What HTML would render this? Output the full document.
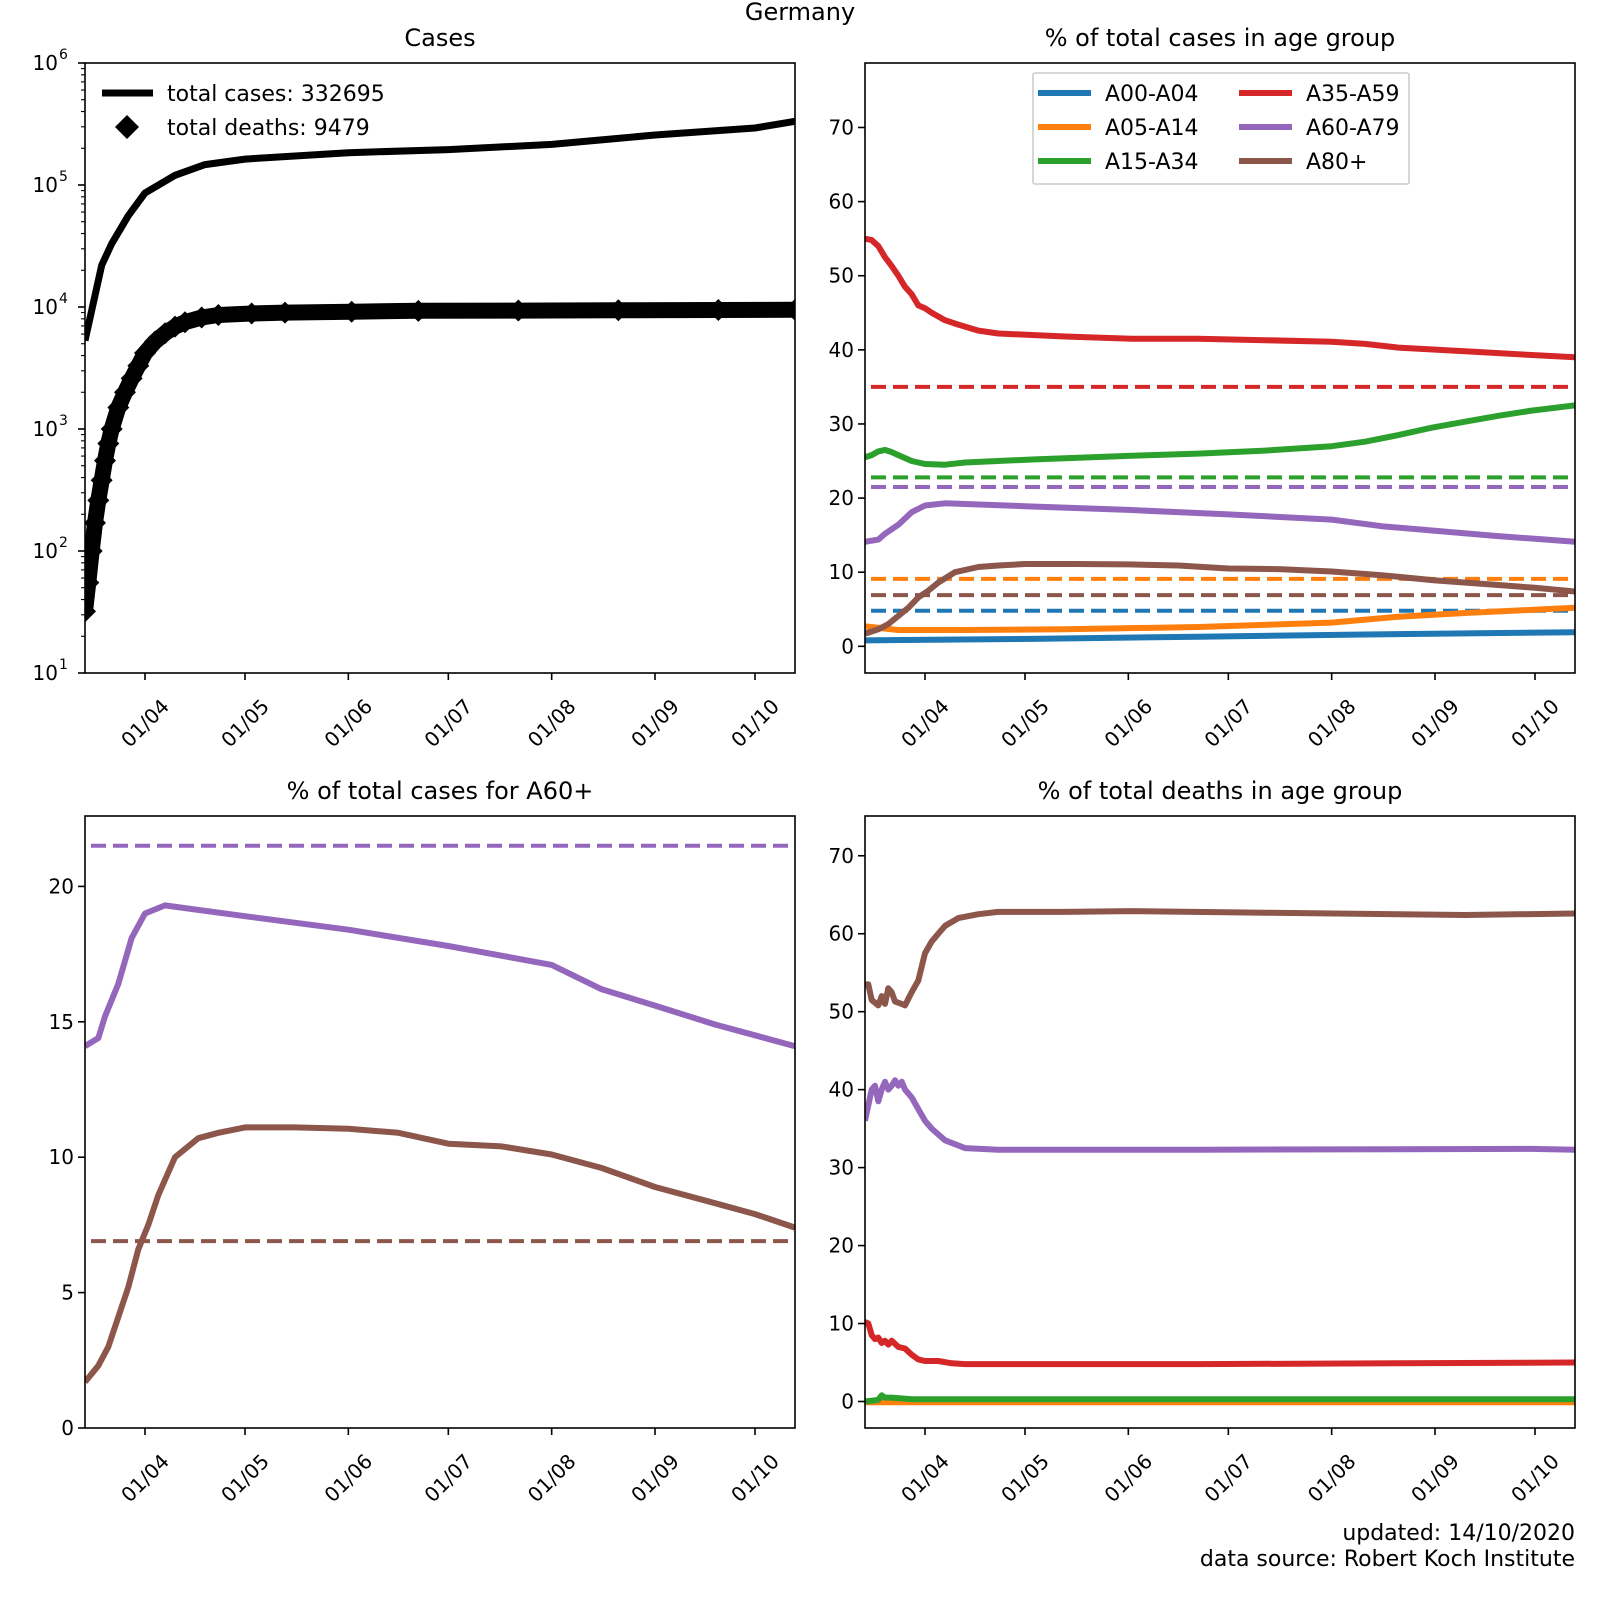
<!DOCTYPE html>
<html><head><meta charset="utf-8">
<style>
html,body{margin:0;padding:0;background:#fff;}
svg{display:block;font-family:"DejaVu Sans","Liberation Sans",sans-serif;}
</style></head>
<body>
<svg id="fig" width="1600" height="1600" viewBox="0 0 1600 1600" xmlns="http://www.w3.org/2000/svg">
<rect x="0" y="0" width="1600" height="1600" fill="#fff"/>
<text x="800" y="20" font-size="24" text-anchor="middle">Germany</text>
<text x="1575" y="1540" font-size="22" text-anchor="end">updated: 14/10/2020</text>
<text x="1575" y="1566" font-size="22" text-anchor="end">data source: Robert Koch Institute</text>
</svg>
<script>
// ---- data (day offsets from 14 March 2020) ----
const dateTickDays = [18, 48, 79, 109, 140, 171, 201];
const dateTickLabels = ["01/04","01/05","01/06","01/07","01/08","01/09","01/10"];
const dayMax = 213;

const caseDays = [0,5,8,13,18,27,36,48,79,109,140,171,201,213];
const caseVals = [5300,22000,33000,56000,86000,120000,147000,163000,184000,195000,215000,257000,293000,332695];
const deathDays = [0,1,2,3,4,5,6,7,8,10,12,14,16,18,21,24,27,30,35,40,50,60,80,100,130,160,190,213];
const deathVals = [32,55,100,170,260,380,550,760,1000,1500,2000,2600,3300,4200,5200,6100,6900,7500,8200,8600,8850,9000,9150,9300,9350,9400,9450,9479];

const logTicks = [1,2,3,4,5,6];

// % of total cases in age group
const a0004Days = [0,50,100,150,213];
const a0004Vals = [0.8,1.0,1.3,1.6,1.9];
const a0514Days = [0,10,30,60,100,140,160,180,213];
const a0514Vals = [2.7,2.2,2.2,2.3,2.6,3.2,4.0,4.5,5.2];
const a1534Days = [0,2,4,6,8,10,14,18,24,30,50,80,100,120,140,150,160,170,180,190,200,213];
const a1534Vals = [25.5,25.8,26.3,26.5,26.2,25.8,25.0,24.6,24.5,24.8,25.2,25.7,26.0,26.4,27.0,27.6,28.5,29.5,30.3,31.1,31.8,32.5];
const a3559Days = [0,2,4,6,8,10,12,14,16,18,20,24,28,34,40,50,60,80,100,120,140,150,160,180,200,213];
const a3559Vals = [55,54.8,54,52.5,51.3,50,48.5,47.5,46,45.6,45,44,43.4,42.6,42.2,42,41.8,41.5,41.5,41.3,41.1,40.8,40.3,39.8,39.3,39];
const a6079Days = [0,4,6,10,14,18,24,30,48,79,109,140,155,171,189,201,213];
const a6079Vals = [14.1,14.4,15.2,16.4,18.1,19.0,19.3,19.2,18.9,18.4,17.8,17.1,16.2,15.6,14.9,14.5,14.1];
const a80Days = [0,4,7,10,13,16,19,22,27,34,40,48,63,79,94,109,125,140,155,171,189,201,213];
const a80Vals = [1.7,2.3,3.0,4.1,5.2,6.6,7.5,8.6,10.0,10.7,10.9,11.1,11.1,11.05,10.9,10.5,10.4,10.1,9.6,8.9,8.3,7.9,7.4];
const popShareGroups = ["A00-A04","A05-A14","A15-A34","A35-A59","A60-A79","A80+"];
const popShareVals = [4.8,9.1,22.8,35.0,21.5,6.9];

// % of total deaths in age group
const d0004Days = [0,213];
const d0004Vals = [0,0];
const d0514Days = [0,213];
const d0514Vals = [-0.1,-0.1];
const d1534Days = [0,4,5,6,8,14,213];
const d1534Vals = [0,0.2,0.8,0.5,0.5,0.3,0.3];
const d3559Days = [0,1,2,3,4,5,6,7,8,10,12,14,16,18,22,26,30,60,100,160,213];
const d3559Vals = [10.2,10,8.5,8,8.2,7.5,7.8,7.3,7.8,7,6.8,6,5.4,5.2,5.2,4.9,4.8,4.8,4.8,4.9,5.0];
const d6079Days = [0,1,2,3,4,5,6,7,8,9,10,11,12,14,16,18,20,24,30,40,60,100,200,213];
const d6079Vals = [36,38,40,40.5,38.5,40,41,40,40.5,41.2,40.5,41,40,39,37.5,36,35,33.5,32.5,32.3,32.3,32.3,32.4,32.3];
const d80Days = [0,1,2,4,5,6,7,8,9,11,12,14,16,18,20,22,24,28,34,40,60,80,120,160,180,213];
const d80Vals = [53.5,53.5,51.5,50.8,52,51,53,52.5,51.3,51,50.8,52.5,54,57.5,59,60,61,62,62.5,62.8,62.8,62.9,62.7,62.5,62.4,62.6];

const colors = ["#1f77b4","#ff7f0e","#2ca02c","#d62728","#9467bd","#8c564b"];

// ---- helpers ----
const NS = "http://www.w3.org/2000/svg";
const fig = document.getElementById("fig");
function mk(tag, attrs, parent){
  const e = document.createElementNS(NS, tag);
  for (const k in attrs) e.setAttribute(k, attrs[k]);
  (parent||fig).appendChild(e);
  return e;
}
function makeAxes(name, x0, y0, x1, y1, ymin, ymax, log){
  const g = mk("g", {});
  
  
  const ax = {g, x0, y0, x1, y1,
    sx: d => x0 + d/dayMax*(x1-x0),
    sy: v => log ? y1 - (Math.log10(v)-ymin)/(ymax-ymin)*(y1-y0) : y1 - (v-ymin)/(ymax-ymin)*(y1-y0)};
  const cp = mk("clipPath", {id: name+"-clip"}, g);
  mk("rect", {x:x0, y:y0, width:x1-x0, height:y1-y0}, cp);
  ax.plot = mk("g", {"clip-path":"url(#"+name+"-clip)"}, g);
  return ax;
}
function frame(ax, title){
  const f = mk("rect", {x:ax.x0, y:ax.y0, width:ax.x1-ax.x0, height:ax.y1-ax.y0, fill:"none", stroke:"#000", "stroke-width":1.6}, ax.g);
  
  
  const t = mk("text", {x:(ax.x0+ax.x1)/2, y:ax.y0-17, "font-size":24, "text-anchor":"middle"}, ax.g);
  t.textContent = title;
  
  
  dateTickDays.forEach((d,i)=>{
    const x = ax.sx(d);
    mk("line", {x1:x, x2:x, y1:ax.y1, y2:ax.y1+7, stroke:"#000", "stroke-width":1.6}, ax.g);
    const cy = ax.y1+50;
    const lb = mk("text", {x:x, y:cy+7, "font-size":20, "text-anchor":"middle", transform:"rotate(-45 "+x+" "+cy+")"}, ax.g);
    lb.textContent = dateTickLabels[i];
    
    
  });
}
function yTicks(ax, ticks){
  ticks.forEach(v=>{
    const y = ax.sy(v);
    mk("line", {x1:ax.x0-7, x2:ax.x0, y1:y, y2:y, stroke:"#000", "stroke-width":1.6}, ax.g);
    const t = mk("text", {x:ax.x0-11, y:y+7, "font-size":20, "text-anchor":"end"}, ax.g);
    t.textContent = String(v);
    
    
  });
}
function line(ax, days, vals, color, name, w){
  const pts = days.map((d,i)=>ax.sx(d).toFixed(1)+","+ax.sy(vals[i]).toFixed(1)).join(" ");
  const p = mk("polyline", {points:pts, fill:"none", stroke:color, "stroke-width":w||6, "stroke-linejoin":"round", "stroke-linecap":"butt"}, ax.plot);
  
  
  return p;
}
function hline(ax, v, color, name){
  const y = ax.sy(v);
  const l = mk("line", {x1:ax.x0+6, x2:ax.x1-6, y1:y, y2:y, stroke:color, "stroke-width":4, "stroke-dasharray":"15,7"}, ax.plot);
  
  
}

// ---- Cases (log) ----
const A = makeAxes("cases-panel", 85, 63, 795, 673, 1, 6, true);
line(A, caseDays, caseVals, "#000", "total-cases-line", 7);
line(A, deathDays, deathVals, "#000", "total-deaths-band", 16);
deathDays.forEach((d,i)=>{
  const x = A.sx(d), y = A.sy(deathVals[i]), r = 11;
  const m = mk("polygon", {points:`${x},${y-r} ${x+r},${y} ${x},${y+r} ${x-r},${y}`, fill:"#000"}, A.plot);
  
  
});
frame(A, "Cases");
logTicks.forEach(e=>{
  const y = A.sy(Math.pow(10,e));
  mk("line", {x1:A.x0-7, x2:A.x0, y1:y, y2:y, stroke:"#000", "stroke-width":1.6}, A.g);
  const t = mk("text", {x:A.x0-27, y:y+7, "font-size":20, "text-anchor":"end"}, A.g);
  t.textContent = "10";
  
  
  const s = mk("text", {x:A.x0-26, y:y-4, "font-size":14, "text-anchor":"start"}, A.g);
  s.textContent = String(e);
  if (e < 6) for (let k=2;k<10;k++){
    const ym = A.sy(k*Math.pow(10,e));
    mk("line", {x1:A.x0-4, x2:A.x0, y1:ym, y2:ym, stroke:"#000", "stroke-width":1.1}, A.g);
  }
});
// legend
(function(){
  const g = mk("g", {});
  
  
  mk("line", {x1:102, x2:153, y1:93, y2:93, stroke:"#000", "stroke-width":7}, g);
  const t1 = mk("text", {x:167, y:101, "font-size":22}, g); t1.textContent = "total cases: 332695";
  mk("polygon", {points:"127,115 139,127 127,139 115,127", fill:"#000"}, g);
  const t2 = mk("text", {x:167, y:135, "font-size":22}, g); t2.textContent = "total deaths: 9479";
})();

// ---- % cases in age group ----
const B = makeAxes("age-cases-panel", 865, 63, 1575, 673, -3.6, 78.7, false);
const caseSeries = [[a0004Days,a0004Vals],[a0514Days,a0514Vals],[a1534Days,a1534Vals],[a3559Days,a3559Vals],[a6079Days,a6079Vals],[a80Days,a80Vals]];
popShareVals.forEach((v,i)=>hline(B, v, colors[i], "population-share-"+popShareGroups[i].toLowerCase()));
caseSeries.forEach((s,i)=>line(B, s[0], s[1], colors[i], "cases-"+popShareGroups[i].toLowerCase()));
frame(B, "% of total cases in age group");
yTicks(B, [0,10,20,30,40,50,60,70]);
(function(){
  const g = mk("g", {});
  
  
  mk("rect", {x:1033, y:73, width:376, height:111, fill:"#fff", stroke:"#ccc", "stroke-width":1.6, rx:2}, g);
  popShareGroups.forEach((n,i)=>{
    const col = Math.floor(i/3), row = i%3;
    const lx = 1038 + col*201, ly = 93 + row*34;
    mk("line", {x1:lx, x2:lx+53, y1:ly, y2:ly, stroke:colors[i], "stroke-width":6}, g);
    const t = mk("text", {x:lx+67, y:ly+8, "font-size":22}, g);
    t.textContent = n;
  });
})();

// ---- % cases for A60+ ----
const C = makeAxes("a60-cases-panel", 85, 816, 795, 1428, 0, 22.6, false);
hline(C, popShareVals[4], colors[4], "population-share-a60-a79");
hline(C, popShareVals[5], colors[5], "population-share-a80");
line(C, a6079Days, a6079Vals, colors[4], "cases-a60-a79");
line(C, a80Days, a80Vals, colors[5], "cases-a80");
frame(C, "% of total cases for A60+");
yTicks(C, [0,5,10,15,20]);

// ---- % deaths in age group ----
const D = makeAxes("age-deaths-panel", 865, 816, 1575, 1428, -3.4, 75.1, false);
const deathSeries = [[d0004Days,d0004Vals],[d0514Days,d0514Vals],[d1534Days,d1534Vals],[d3559Days,d3559Vals],[d6079Days,d6079Vals],[d80Days,d80Vals]];
deathSeries.forEach((s,i)=>line(D, s[0], s[1], colors[i], "deaths-"+popShareGroups[i].toLowerCase()));
frame(D, "% of total deaths in age group");
yTicks(D, [0,10,20,30,40,50,60,70]);
</script>
</body></html>
